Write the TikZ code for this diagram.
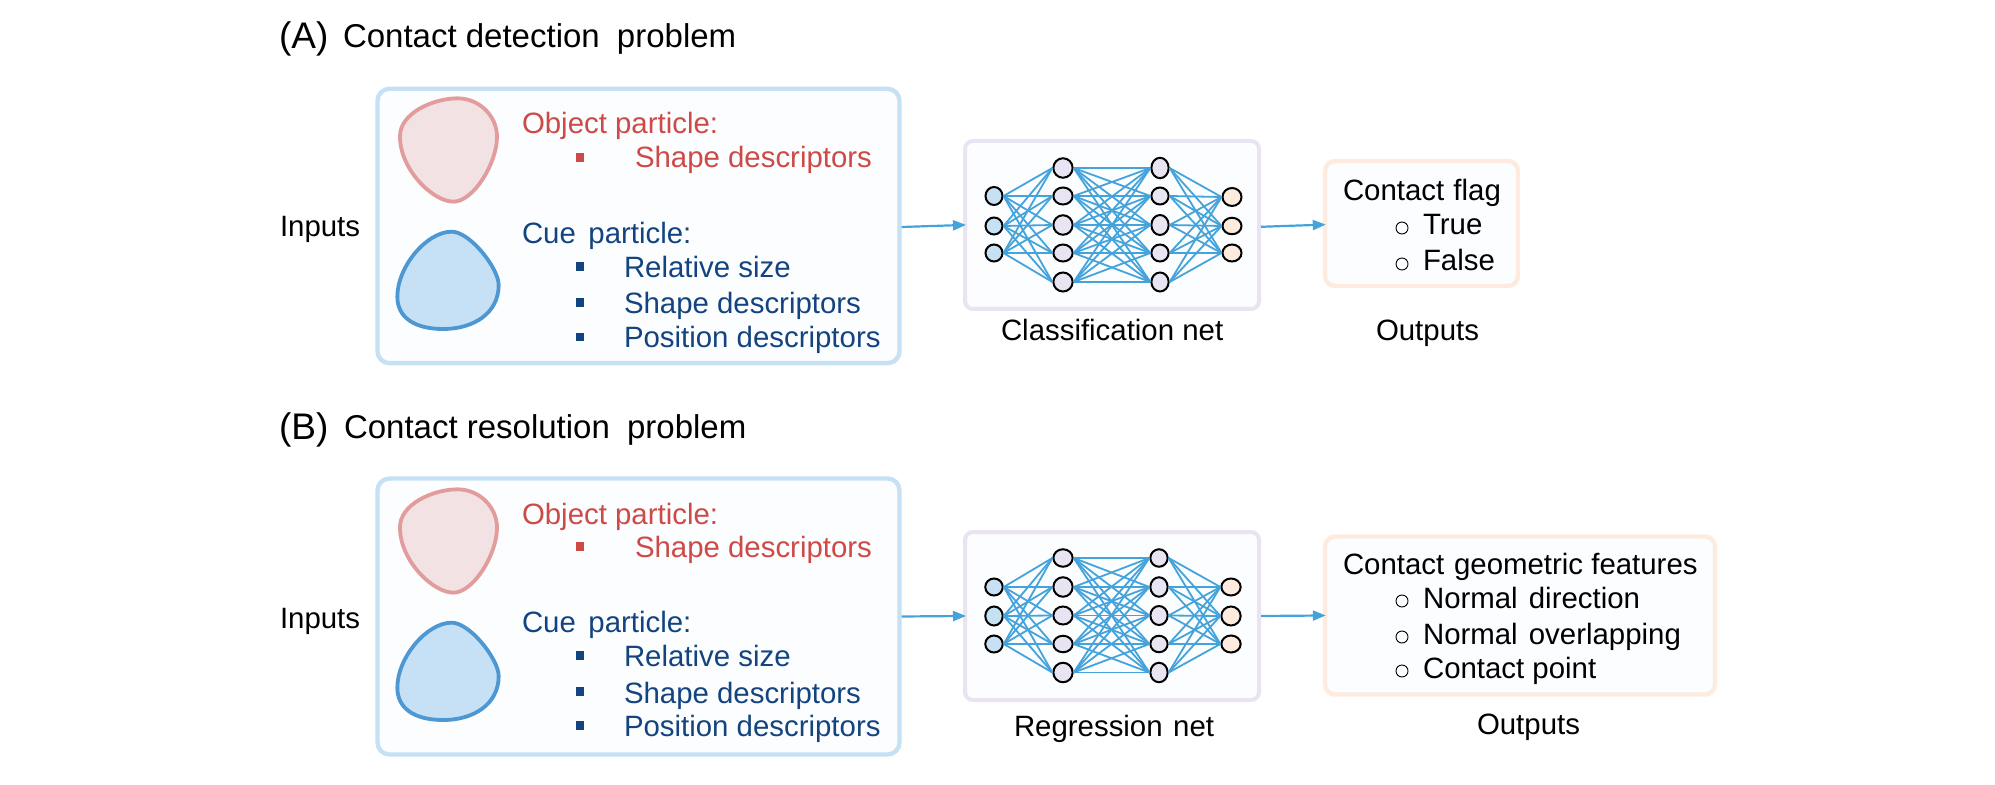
\documentclass[tikz,border=0pt]{standalone}
\usepackage{fontspec}
\setmainfont{Liberation Sans}
\usetikzlibrary{shapes.geometric,arrows.meta}
\definecolor{panel}{HTML}{FBFDFF}
\definecolor{inborder}{HTML}{C6E1F4}
\definecolor{netborder}{HTML}{E8E4F1}
\definecolor{outborder}{HTML}{FDEBDF}
\definecolor{infill}{HTML}{C6E1F4}
\definecolor{hidfill}{HTML}{E8E4F1}
\definecolor{outfill}{HTML}{FDEBDD}
\definecolor{edgeblue}{HTML}{45A3DB}
\definecolor{txtred}{HTML}{CD4A47}
\definecolor{txtblue}{HTML}{13447F}
\definecolor{blobredline}{HTML}{E29C9C}
\definecolor{blobredfill}{HTML}{F3E2E4}
\definecolor{blobblueline}{HTML}{4D97D3}
\definecolor{blobbluefill}{HTML}{C6E1F5}
\tikzset{
  panelbox/.style={draw,fill=panel,rounded corners=#1,inner sep=0pt},
  inbox/.style={panelbox=6pt,draw=inborder,line width=2.2pt},
  netbox/.style={panelbox=4pt,draw=netborder,line width=2pt},
  outbox/.style={panelbox=5pt,draw=outborder,line width=2.2pt},
  neuron/.style={ellipse,draw=black,line width=1pt,inner sep=0pt},
  weight/.style={draw=edgeblue,line width=0.9pt},
  flow/.style={draw=edgeblue,line width=1.1pt,shorten >=-1.5pt,-{Triangle[length=6.5pt,width=5pt]}},
  lbl/.style={anchor=base west,inner sep=0pt,outer sep=0pt,yshift=-0.5pt,font=\fontsize{14.7}{17}\selectfont},
  ttl/.style={lbl,font=\fontsize{16.5}{19}\selectfont},
  big/.style={lbl,font=\fontsize{18.5}{22}\selectfont},
  sqbul/.style={rectangle,draw=none,fill=#1,inner sep=0pt,minimum width=4.3pt,minimum height=4.4pt},
  ringbul/.style={circle,draw=black,line width=0.45pt,inner sep=0pt,minimum size=6pt},
}
% one layer: name prefix, x, width (px), fill, list of y/height (px)
\newcommand\netlayer[5]{%
  \foreach \yy/\hh [count=\ii] in {#5}{%
    \node[neuron,fill=#4,minimum width=#3*0.5pt,minimum height=\hh*0.5pt] (#1-\ii) at (#2,\yy) {};
  }}
% connect every node of one layer to every node of the next
\newcommand\fullconnect[4]{%
  \foreach \aa in {1,...,#2}{\foreach \bb in {1,...,#4}{%
    \draw[weight] (#1-\aa.east) -- (#3-\bb.west);
  }}}
\newcommand\particles[1]{%
  \begin{scope}[shift={(370,#1)},x=0.16667pt,y=-0.16667pt]
    \draw[draw=blobredline,fill=blobredfill,line width=1.9pt]
      (262,55) .. controls (330,55) and (381,110) .. (381,170)
      .. controls (381,250) and (310,365) .. (250,365)
      .. controls (190,365) and (90,270) .. (90,170)
      .. controls (88,100) and (190,55) .. (262,55) -- cycle;
    \draw[draw=blobblueline,fill=blobbluefill,line width=1.9pt]
      (245,455) .. controls (300,455) and (386,565) .. (386,615)
      .. controls (386,700) and (310,747) .. (220,747)
      .. controls (130,747) and (82,710) .. (82,650)
      .. controls (82,560) and (170,455) .. (245,455) -- cycle;
  \end{scope}}
\begin{document}
\begin{tikzpicture}[x=0.5pt,y=-0.5pt]
\useasboundingbox (0,0) rectangle (1995,785);

% ---------- Panel A ----------
\node[big] (tagA) at (279,48) {(A)};
\node[ttl] (titleA) at (343,47) {Contact detection\hspace{4pt} problem};
\node[lbl] (inputsA) at (280,236) {Inputs};
\node[inbox,minimum width=261pt,minimum height=137.2pt] (inA) at (638.5,226) {};
\particles{80}
\node[lbl,text=txtred] (objA) at (522,133) {Object particle:};
\node[sqbul=txtred] (b1A) at (580,157.5) {};
\node[lbl,text=txtred] (os1A) at (635,167) {Shape descriptors};
\node[lbl,text=txtblue] (cueA) at (522,243) {Cue\hspace{2.2pt} particle:};
\node[sqbul=txtblue] (b2A) at (580,266.5) {};
\node[lbl,text=txtblue] (cs1A) at (624,277) {Relative size};
\node[sqbul=txtblue] (b3A) at (580,302.5) {};
\node[lbl,text=txtblue] (cs2A) at (624,313) {Shape descriptors};
\node[sqbul=txtblue] (b4A) at (580,337) {};
\node[lbl,text=txtblue] (cs3A) at (624,347) {Position descriptors};

\node[netbox,minimum width=147pt,minimum height=84pt] (netA) at (1112,225) {};
\netlayer{ai}{994}{17}{infill}{196/18,226/17,253/17}
\netlayer{ah}{1063}{19.3}{hidfill}{168/19.5,196/17,225/19.5,253/17,282/19}
\netlayer{ak}{1160}{17.3}{hidfill}{168/20.5,196/17,225/20,253/17,282/19}
\netlayer{ao}{1232}{19}{outfill}{197/18,226/16.5,253/17}
\fullconnect{ai}{3}{ah}{5}
\fullconnect{ah}{5}{ak}{5}
\fullconnect{ak}{5}{ao}{3}
\node[lbl] (netlabA) at (1001,340) {Classification net};

\node[outbox,minimum width=96.5pt,minimum height=62.5pt] (outA) at (1421.5,223.5) {};
\node[lbl] (flagA) at (1343,200) {Contact\hspace{0.5pt} flag};
\node[ringbul] (r1A) at (1402,228) {};
\node[lbl] (o1A) at (1423,234) {True};
\node[ringbul] (r2A) at (1402,264) {};
\node[lbl] (o2A) at (1423,270) {False};
\node[lbl] (outlabA) at (1376,340) {Outputs};

\draw[flow] ([yshift=-0.5pt]inA.east) -- (netA.west);
\draw[flow] ([yshift=-0.9pt]netA.east) -- ([yshift=-0.6pt]outA.west);

% ---------- Panel B ----------
\node[big] (tagB) at (279,439) {(B)};
\node[ttl] (titleB) at (344,438) {Contact resolution\hspace{4pt} problem};
\node[lbl] (inputsB) at (280,627) {Inputs};
\node[inbox,minimum width=261pt,minimum height=138pt] (inB) at (638.5,616.5) {};
\particles{471}
\node[lbl,text=txtred] (objB) at (522,523) {Object particle:};
\node[sqbul=txtred] (b1B) at (580,546.5) {};
\node[lbl,text=txtred] (os1B) at (635,556) {Shape descriptors};
\node[lbl,text=txtblue] (cueB) at (522,631) {Cue\hspace{2.2pt} particle:};
\node[sqbul=txtblue] (b2B) at (580,655.5) {};
\node[lbl,text=txtblue] (cs1B) at (624,665) {Relative size};
\node[sqbul=txtblue] (b3B) at (580,691.5) {};
\node[lbl,text=txtblue] (cs2B) at (624,702) {Shape descriptors};
\node[sqbul=txtblue] (b4B) at (580,725.5) {};
\node[lbl,text=txtblue] (cs3B) at (624,735) {Position descriptors};

\node[netbox,minimum width=147pt,minimum height=84pt] (netB) at (1112,616) {};
\netlayer{bi}{994}{17.5}{infill}{587/17,616/19,644/17}
\netlayer{bh}{1063}{19.3}{hidfill}{558/17.5,587/19.5,615.5/18,644/16.5,672.5/19.5}
\netlayer{bk}{1159}{17.3}{hidfill}{558/17.5,587/19.5,615.5/19,644/16.5,672.5/19.5}
\netlayer{bo}{1231}{19.3}{outfill}{587/17,616/19,644/17}
\fullconnect{bi}{3}{bh}{5}
\fullconnect{bh}{5}{bk}{5}
\fullconnect{bk}{5}{bo}{3}
\node[lbl] (netlabB) at (1014,735.5) {Regression\hspace{1.2pt} net};

\node[outbox,minimum width=195pt,minimum height=79pt] (outB) at (1520,615.5) {};
\node[lbl] (geoB) at (1343,573) {Contact\hspace{0.8pt} geometric features};
\node[ringbul] (r1B) at (1402,601) {};
\node[lbl] (o1B) at (1423,607) {Normal\hspace{1.5pt} direction};
\node[ringbul] (r2B) at (1402,637) {};
\node[lbl] (o2B) at (1423,643) {Normal\hspace{1.5pt} overlapping};
\node[ringbul] (r3B) at (1402,671) {};
\node[lbl] (o3B) at (1423,677) {Contact point};
\node[lbl] (outlabB) at (1477,733) {Outputs};

\draw[flow] (inB.east) -- (netB.west);
\draw[flow] (netB.east) -- (outB.west);
\end{tikzpicture}
\end{document}
